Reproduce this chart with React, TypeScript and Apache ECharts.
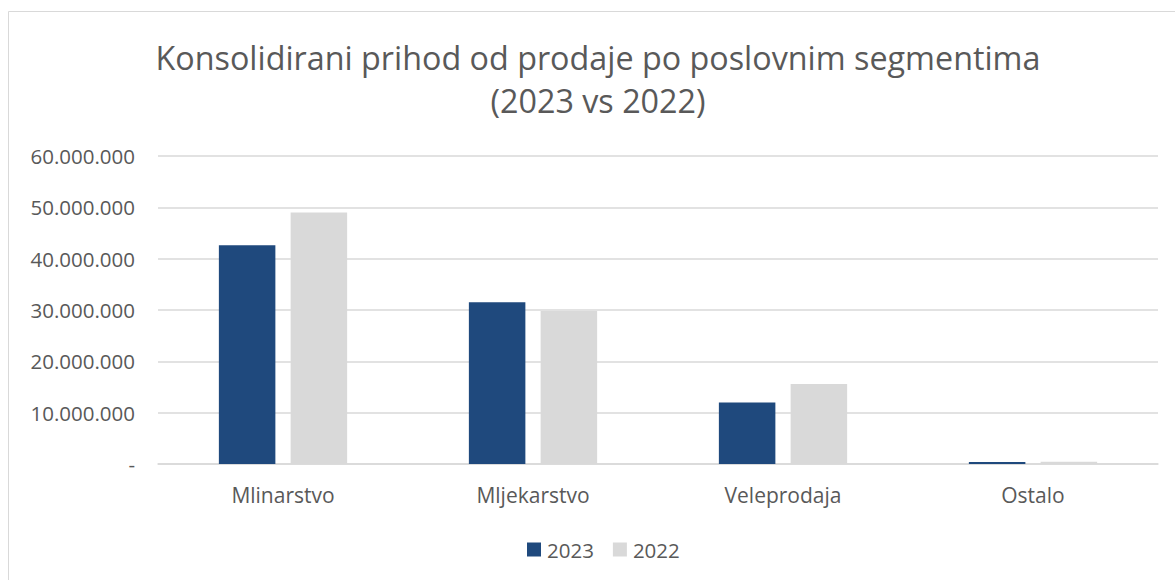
import React, { useEffect, useRef } from "react";
import * as echarts from "echarts";

const categories = ["Mlinarstvo", "Mljekarstvo", "Veleprodaja", "Ostalo"];
const values2023 = [42600000, 31500000, 12000000, 400000];
const values2022 = [49000000, 29800000, 15600000, 450000];
const seriesNames = ["2023", "2022"];
const titleLines = ["Konsolidirani prihod od prodaje po poslovnim segmentima", "(2023 vs 2022)"];

const FONT = "'Open Sans', sans-serif";
const TXT = "#595959";

function fmt(v: number): string {
  if (v === 0) return "-";
  return String(Math.round(v)).replace(/\B(?=(\d{3})+(?!\d))/g, ".");
}

export default function App() {
  const ref = useRef<HTMLDivElement>(null);
  useEffect(() => {
    if (!ref.current) return;
    const chart = echarts.init(ref.current, undefined, { renderer: "svg" });
    chart.setOption({
      animation: false,
      backgroundColor: "#ffffff",
      textStyle: { fontFamily: FONT },
      graphic: [
        {
          type: "rect",
          shape: { x: 8.5, y: 11.5, width: 1200, height: 600 },
          style: { fill: "none", stroke: "#d9d9d9", lineWidth: 1 },
          silent: true,
        },
      ],
      title: {
        text: titleLines.join("\n"),
        left: 593,
        textAlign: "center",
        top: 30,
        textStyle: {
          fontFamily: FONT,
          fontSize: 32.3,
          fontWeight: "normal",
          color: TXT,
          lineHeight: 43,
        },
      },
      legend: {
        data: seriesNames,
        top: 534,
        left: 522,
        itemWidth: 14,
        itemHeight: 14,
        itemGap: 19,
        icon: "rect",
        textStyle: { fontFamily: FONT, fontSize: 20.5, color: TXT, padding: [0, 0, 0, 1] },
      },
      grid: { left: 158, right: 17, top: 156, bottom: 116, containLabel: false },
      xAxis: {
        type: "category",
        data: categories,
        axisLine: { lineStyle: { color: "#d9d9d9", width: 1.5 } },
        axisTick: { show: false },
        axisLabel: { fontFamily: FONT, fontSize: 21, color: TXT, margin: 20 },
      },
      yAxis: {
        type: "value",
        min: 0,
        max: 60000000,
        interval: 10000000,
        axisLine: { show: false },
        axisTick: { show: false },
        splitLine: { lineStyle: { color: "#d9d9d9", width: 1.5 } },
        axisLabel: {
          fontFamily: FONT,
          fontSize: 20.5,
          color: TXT,
          margin: 23,
          formatter: (v: number) => fmt(v),
        },
      },
      series: [
        {
          name: seriesNames[0],
          type: "bar",
          data: values2023,
          barWidth: 56.5,
          barGap: "27%",
          itemStyle: { color: "#1f497d" },
        },
        {
          name: seriesNames[1],
          type: "bar",
          data: values2022,
          barWidth: 56.5,
          itemStyle: { color: "#d9d9d9" },
        },
      ],
    });
    return () => chart.dispose();
  }, []);
  return (
    <div
      ref={ref}
      style={{ position: "fixed", left: 0, top: 0, width: 1175, height: 580 }}
    />
  );
}
